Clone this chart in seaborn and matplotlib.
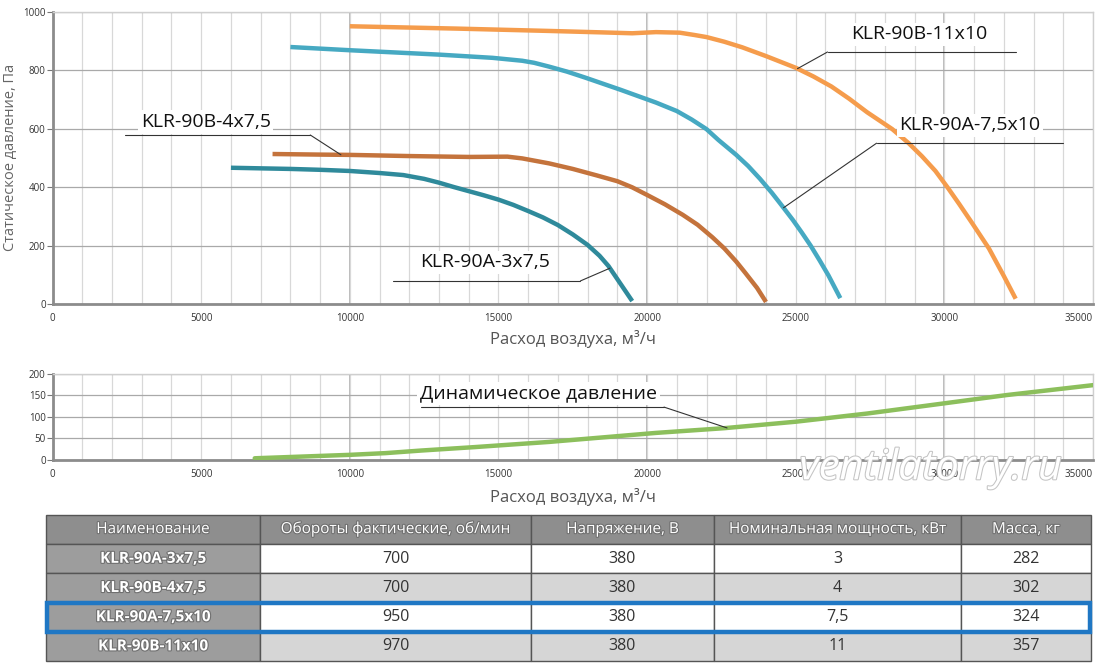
import numpy as np
import matplotlib
matplotlib.use("Agg")
import matplotlib.pyplot as plt
import matplotlib.patheffects as pe
from matplotlib.patches import Rectangle
from matplotlib.ticker import MultipleLocator
import seaborn as sns

# --- Fan curves: air flow (m3/h) vs static pressure (Pa) ---
flow_3x75 = [6000, 7000, 8000, 9000, 10000, 11000, 11800, 12500, 13000, 13500, 14000, 14500, 15000, 15500,
             16000, 16500, 17000, 17500, 18000, 18400, 18700, 19100, 19500]
pres_3x75 = [466, 464, 462, 459, 455, 448, 441, 428, 415, 400, 386, 372, 357, 339,
             318, 296, 270, 238, 202, 165, 130, 70, 10]

flow_4x75 = [7400, 9000, 10000, 12000, 14000, 15300, 15800, 16700, 17500, 18300, 19000, 19500, 20000,
             20600, 21200, 21700, 22200, 22600, 23000, 23300, 23700, 24000]
pres_4x75 = [513, 511, 510, 506, 503, 504, 498, 481, 462, 440, 420, 399, 373,
             341, 305, 271, 228, 190, 145, 107, 55, 7]

flow_75x10 = [8000, 10000, 12000, 13000, 14800, 15800, 16200, 16700, 17300, 17900, 19100, 20300, 21000,
              21500, 22000, 22400, 23000, 23400, 23800, 24200, 24500, 24900, 25200, 25500, 25800, 26100, 26500]
pres_75x10 = [879, 868, 858, 853, 842, 832, 825, 812, 795, 775, 733, 689, 660,
              631, 598, 561, 510, 472, 428, 380, 341, 288, 245, 200, 150, 98, 20]

flow_11x10 = [10000, 13600, 16700, 18500, 19500, 20300, 21100, 21600, 22000, 22600, 23200, 24000, 25000,
              25600, 26200, 26800, 27400, 28250, 28800, 29250, 29700, 30100, 30500, 30900, 31500, 32000, 32400]
pres_11x10 = [950, 942, 934, 929, 926, 930, 928, 920, 913, 897, 878, 848, 808,
              778, 744, 702, 656, 598, 550, 505, 455, 400, 342, 282, 190, 96, 18]

# --- Dynamic pressure ---
flow_dyn = [6800, 8000, 10000, 11200, 12400, 14200, 16700, 19100, 20300, 22600, 25000, 27400, 29700,
            32100, 35000]
pres_dyn = [4, 7, 12, 16, 22, 30, 42, 56, 63, 74, 89, 108, 129, 151, 174]

series_names = ["KLR-90A-3x7,5", "KLR-90B-4x7,5", "KLR-90A-7,5x10", "KLR-90B-11x10"]
series_colors = ["#2f8a9b", "#c4733c", "#46a9c2", "#f59c4c"]
dyn_name = "Динамическое давление"
dyn_color = "#8cbf5c"

# label placement: (text x, text y, underline y, underline x0, x1, anchor flow on curve, diag from left?)
label_pos = [
    (14560, 142, 79, 11460, 17760, 18750, False),
    (5150, 622, 578, 2440, 8670, 9700, False),
    (30860, 611, 550, 27720, 33990, 24590, True),
    (29140, 922, 862, 26070, 32410, 25060, True),
]
dyn_label = (16350, 155, 123, 12410, 20570, 22690, False)

# --- Table ---
table_header = ["Наименование", "Обороты фактические, об/мин", "Напряжение, В",
                "Номинальная мощность, кВт", "Масса, кг"]
rpm = ["700", "700", "950", "970"]
voltage = ["380", "380", "380", "380"]
power = ["3", "4", "7,5", "11"]
mass = ["282", "302", "324", "357"]
highlight_row = 2

sns.set_style("white")
plt.rcParams["font.family"] = ["Open Sans", "DejaVu Sans"]

fig = plt.figure(figsize=(11, 6.69), dpi=100)
ax1 = fig.add_axes([0.0478, 0.5456, 0.9458, 0.437])
ax2 = fig.add_axes([0.0478, 0.3124, 0.9458, 0.1286])
axt = fig.add_axes([0.0418, 0.012, 0.95, 0.2182])


def style_axis(ax, ymax, ystep):
    ax.set_xlim(0, 35000)
    ax.set_ylim(0, ymax)
    xt = list(range(0, 35001, 5000))
    ax.set_xticks(xt, [str(v) for v in xt])
    ax.get_xticklabels()[-1].set_horizontalalignment("right")
    ax.xaxis.set_minor_locator(MultipleLocator(1000))
    ax.yaxis.set_major_locator(MultipleLocator(ystep))
    ax.grid(which="both", axis="x", color="#d8d8d8", lw=0.9, zorder=0)
    ax.grid(which="major", axis="y", color="#a9a9a9", lw=0.9, zorder=0)
    for xv in (10000, 20000, 30000):
        ax.axvline(xv, color="#b4b4b4", lw=1.3, zorder=0)
    for s in ("left", "bottom"):
        ax.spines[s].set_color("#8c8c8c")
        ax.spines[s].set_linewidth(2)
    for s in ("top", "right"):
        ax.spines[s].set_color("#cfcfcf")
        ax.spines[s].set_linewidth(1)
    ax.tick_params(axis="y", which="major", left=True, length=4, width=0.8, color="#777",
                   labelsize=7, labelcolor="#333", pad=1)
    ax.tick_params(axis="x", which="both", bottom=False, labelsize=7, labelcolor="#333", pad=3)
    ax.set_axisbelow(True)


def add_label(ax, name, pos, xs, ys):
    tx, ty, uy, x0, x1, fx, from_left = pos
    fy = np.interp(fx, xs, ys)
    start = x0 if from_left else x1
    ax.plot([x0, x1], [uy, uy], color="#333", lw=0.8, zorder=7)
    ax.plot([start, fx], [uy, fy], color="#333", lw=0.8, zorder=7)
    ax.text(tx, ty, name, ha="center", va="center", fontsize=14, color="#111", zorder=6,
            bbox=dict(facecolor="white", edgecolor="none", pad=2))


# --- Top chart ---
style_axis(ax1, 1000, 200)
curves = [(flow_3x75, pres_3x75), (flow_4x75, pres_4x75), (flow_75x10, pres_75x10), (flow_11x10, pres_11x10)]
for (xs, ys), name, col, pos in zip(curves, series_names, series_colors, label_pos):
    sns.lineplot(x=xs, y=ys, ax=ax1, color=col, linewidth=3.2, sort=False, estimator=None,
                 solid_capstyle="butt", solid_joinstyle="round", zorder=3)
    add_label(ax1, name, pos, xs, ys)
ax1.set_xlabel("Расход воздуха, м³/ч", fontsize=12, color="#555", labelpad=4)
ax1.set_ylabel("Статическое давление, Па", fontsize=10.5, color="#666", labelpad=4)

# --- Bottom chart ---
style_axis(ax2, 200, 50)
sns.lineplot(x=flow_dyn, y=pres_dyn, ax=ax2, color=dyn_color, linewidth=3.2, sort=False,
             estimator=None, solid_joinstyle="round", zorder=3)
add_label(ax2, dyn_name, dyn_label, flow_dyn, pres_dyn)
ax2.set_xlabel("Расход воздуха, м³/ч", fontsize=12, color="#555", labelpad=6)
ax2.set_ylabel("")

fig.text(0.846, 0.30, "ventilatorry.ru", fontsize=30, style="italic", color="white",
         ha="center", va="center", zorder=0,
         path_effects=[pe.withStroke(linewidth=1.5, foreground="#c4c4c4")])

# --- Table ---
axt.axis("off")
rows = [[n, r, v, p, m] for n, r, v, p, m in zip(series_names, rpm, voltage, power, mass)]
cell_colors = [["#9d9d9d"] + (["#ffffff"] * 4 if i % 2 == 0 else ["#d6d6d6"] * 4)
               for i in range(len(rows))]
tbl = axt.table(cellText=rows, colLabels=table_header, cellColours=cell_colors,
                colColours=["#8e8e8e"] * 5, colWidths=[214, 271, 183, 247, 130],
                cellLoc="center", bbox=[0, 0, 1, 1])
tbl.auto_set_font_size(False)
n_rows = len(rows) + 1
shadow = [pe.withStroke(linewidth=1.6, foreground="#6f6f6f")]
for (r, c), cell in tbl.get_celld().items():
    cell.set_edgecolor("#555555")
    cell.set_linewidth(1)
    cell.set_height(1 / n_rows)
    txt = cell.get_text()
    if r == 0:
        txt.set_color("white")
        txt.set_fontsize(11)
        txt.set_path_effects(shadow)
    elif c == 0:
        txt.set_color("white")
        txt.set_fontsize(11)
        txt.set_fontweight("bold")
        txt.set_path_effects(shadow)
    else:
        txt.set_color("#333")
        txt.set_fontsize(11.5)
hl_y = 1 - (highlight_row + 2) / n_rows
axt.add_patch(Rectangle((0.001, hl_y), 0.998, 1 / n_rows, fill=False, edgecolor="#1f77c4",
                        lw=3.2, transform=axt.transAxes, zorder=10, clip_on=False))

fig.savefig("out.png", dpi=100)
